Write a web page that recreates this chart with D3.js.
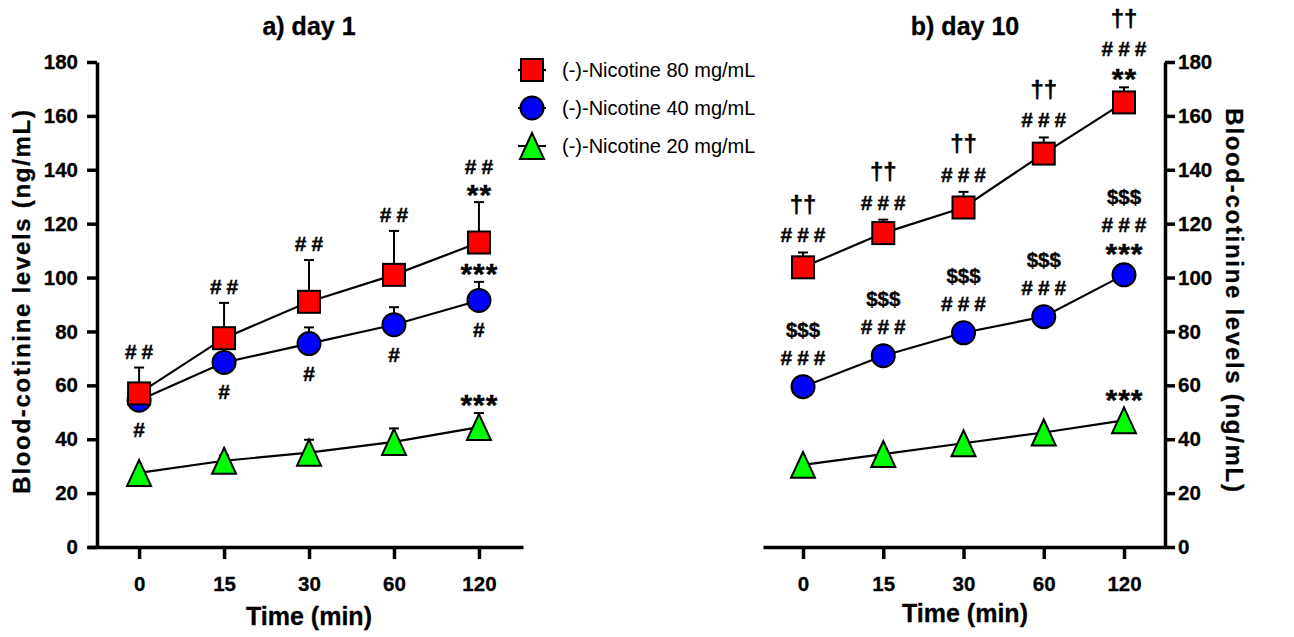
<!doctype html>
<html>
<head>
<style type="text/css">
  body { margin: 0; background: #fff; }
  text { font-family: "Liberation Sans", Arial, sans-serif; fill: black; }
  .tick text { font-size: 20.5px; font-weight: bold; stroke: black; stroke-width: 0.3px; }
  .title { font-size: 25px; font-weight: bold; text-anchor: middle; stroke: black; stroke-width: 0.3px; }
  .legend text { font-size: 20px; }
  .mark { font-weight: bold; stroke: black; stroke-width: 0.4px; }
</style>
</head>
<body>
<svg width="1294" height="637"></svg>
<script src="https://d3js.org/d3.v7.min.js"></script>
<script>
// categories and ticks
var times = ["0", "15", "30", "60", "120"];
var yTicks = [0, 20, 40, 60, 80, 100, 120, 140, 160, 180];
var seriesNames = ["(-)-Nicotine 80 mg/mL", "(-)-Nicotine 40 mg/mL", "(-)-Nicotine 20 mg/mL"];

// day 1 (means and SEM, ng/mL)
var day1Mean80 = [57, 77.5, 91, 101, 113];
var day1Sem80  = [9.6, 13.1, 15.5, 16.3, 15];
var day1Mean40 = [54.5, 68.5, 75.5, 82.5, 91.5];
var day1Sem40  = [2, 3, 6, 6.5, 6.9];
var day1Mean20 = [27.5, 32, 35, 39, 44.5];
var day1Sem20  = [1, 2, 4.8, 5, 5.2];

// day 10
var day10Mean80 = [103.8, 116.5, 126, 146, 165];
var day10Sem80  = [5.5, 5, 5.8, 6, 5.6];
var day10Mean40 = [59.5, 71, 79.5, 85.5, 101];
var day10Sem40  = [4, 3, 3, 2, 4];
var day10Mean20 = [30.5, 34.5, 38.5, 42.5, 47];
var day10Sem20  = [1, 1, 1, 1, 1];

// significance marks (top line first)
var day1Above80 = [["##"], ["##"], ["##"], ["##"], ["##", "**"]];
var day1Above40 = [[], [], [], [], ["***"]];
var day1Below40 = ["#", "#", "#", "#", "#"];
var day1Above20 = [[], [], [], [], ["***"]];
var day10Above80 = [["††", "###"], ["††", "###"], ["††", "###"], ["††", "###"], ["††", "###", "**"]];
var day10Above40 = [["$$$", "###"], ["$$$", "###"], ["$$$", "###"], ["$$$", "###"], ["$$$", "###", "***"]];
var day10Above20 = [[], [], [], [], ["***"]];

var colors = ["#ff0000", "#0000ff", "#00ff00"];
var shapes = ["square", "circle", "triangle"];

var svg = d3.select("svg");
svg.append("rect").attr("width", 1294).attr("height", 637).attr("fill", "#fff");

var y = d3.scaleLinear().domain([0, 180]).range([547, 62]);

function marker(sel, shape, color) {
  if (shape === "square") {
    sel.append("rect").attr("x", -11).attr("y", -11).attr("width", 22).attr("height", 22);
  } else if (shape === "circle") {
    sel.append("circle").attr("r", 11.5);
  } else {
    sel.append("path").attr("d", "M0,-13L12,13L-12,13Z");
  }
  sel.selectAll("rect,circle,path")
    .attr("fill", color).attr("stroke", "black").attr("stroke-width", 2);
}

// glyph extents in em: [yMin, yMax] relative to baseline, font size, letter spacing
var glyph = { "#": [0, 0.70], "$": [-0.08, 0.77], "†": [-0.16, 0.73], "*": [0.38, 0.72] };
var fsize = { "#": 21, "$": 20.5, "†": 24, "*": 30 };
var spacing = { "#": 5, "$": 0, "†": 0, "*": 1 };

function stack(g, cx, anchor, lines, gap, lineGap) {
  var bottom = anchor - gap;
  for (var i = lines.length - 1; i >= 0; i--) {
    var ch = lines[i][0];
    var fs = fsize[ch];
    var m = glyph[ch];
    var base = bottom + m[0] * fs;
    var ls = spacing[ch];
    g.append("text").attr("class", "mark")
      .attr("x", cx + ls / 2).attr("y", base)
      .attr("text-anchor", "middle")
      .style("font-size", fs + "px")
      .style("letter-spacing", ls + "px")
      .text(lines[i]);
    bottom = base - m[1] * fs - lineGap;
  }
}

function panel(cfg) {
  var g = svg.append("g");
  var x = d3.scalePoint().domain(times).range(cfg.xRange).padding(cfg.pad).align(cfg.align);

  g.append("g").attr("transform", "translate(0," + y(0) + ")")
    .call(d3.axisBottom(x).tickSize(12).tickSizeOuter(0).tickPadding(17));
  g.append("g").attr("transform", "translate(" + cfg.yAxisX + ",0)")
    .call((cfg.right ? d3.axisRight(y) : d3.axisLeft(y))
      .tickValues(yTicks).tickSize(10).tickSizeOuter(0).tickPadding(cfg.right ? 3 : 9));
  g.selectAll(".domain, .tick line").attr("stroke", "black").attr("stroke-width", 3.5);

  g.append("text").attr("class", "title").attr("x", cfg.titleX).attr("y", 35).text(cfg.title);
  g.append("text").attr("class", "title").attr("x", cfg.titleX).attr("y", cfg.xTitleY).text("Time (min)");
  g.append("text").attr("class", "title")
    .attr("transform", "translate(" + cfg.yTitleX + ",301) rotate(" + (cfg.right ? 90 : -90) + ")")
    .style("font-size", "24px").style("letter-spacing", "1.7px")
    .text("Blood-cotinine levels (ng/mL)");

  var line = d3.line().x(function (d) { return x(d.t); }).y(function (d) { return y(d.v); });
  var rows = cfg.series.map(function (s) {
    return times.map(function (t, i) { return { t: t, v: s.mean[i], sem: s.sem[i] }; });
  });

  rows.forEach(function (r) {
    g.append("path").datum(r).attr("d", line)
      .attr("fill", "none").attr("stroke", "black").attr("stroke-width", 2.2);
  });

  // draw 20, 40, 80 so the 80 squares sit on top
  [2, 1, 0].forEach(function (k) {
    var s = cfg.series[k];
    rows[k].forEach(function (d, i) {
      var cx = x(d.t), top = y(d.v + d.sem);
      g.append("line").attr("x1", cx).attr("x2", cx).attr("y1", y(d.v)).attr("y2", top)
        .attr("stroke", "black").attr("stroke-width", 2);
      g.append("line").attr("x1", cx - 5).attr("x2", cx + 5).attr("y1", top).attr("y2", top)
        .attr("stroke", "black").attr("stroke-width", 2);
      var m = g.append("g").attr("transform", "translate(" + cx + "," + y(d.v) + ")");
      marker(m, shapes[k], colors[k]);
      stack(g, cx, Math.min(top, y(d.v) - 12), s.above[i], cfg.gap, cfg.lineGap);
      if (s.below) {
        g.append("text").attr("class", "mark").attr("x", cx).attr("y", y(d.v) + 37)
          .attr("text-anchor", "middle").style("font-size", "21px").text(s.below[i]);
      }
    });
  });
}

panel({
  title: "a) day 1", titleX: 309, xTitleY: 625, yTitleX: 30, yAxisX: 97, right: false,
  xRange: [88, 523], pad: 0.56, align: 0.537, gap: 9, lineGap: 9,
  series: [
    { mean: day1Mean80, sem: day1Sem80, above: day1Above80 },
    { mean: day1Mean40, sem: day1Sem40, above: day1Above40, below: day1Below40 },
    { mean: day1Mean20, sem: day1Sem20, above: day1Above20 }
  ]
});

panel({
  title: "b) day 10", titleX: 965, xTitleY: 622, yTitleX: 1226, yAxisX: 1165, right: true,
  xRange: [763, 1165], pad: 0.505, align: 0.494, gap: 10, lineGap: 11,
  series: [
    { mean: day10Mean80, sem: day10Sem80, above: day10Above80 },
    { mean: day10Mean40, sem: day10Sem40, above: day10Above40 },
    { mean: day10Mean20, sem: day10Sem20, above: day10Above20 }
  ]
});

// legend
var legend = svg.append("g").attr("class", "legend");
var legendY = d3.scalePoint().domain(seriesNames).range([70, 146]);
seriesNames.forEach(function (name, k) {
  var row = legend.append("g").attr("transform", "translate(532," + legendY(name) + ")");
  row.append("line").attr("x1", -14).attr("x2", 14).attr("stroke", "black").attr("stroke-width", 2);
  marker(row, shapes[k], colors[k]);
  row.append("text").attr("x", 30).attr("y", 7).text(name);
});
</script>
</body>
</html>
